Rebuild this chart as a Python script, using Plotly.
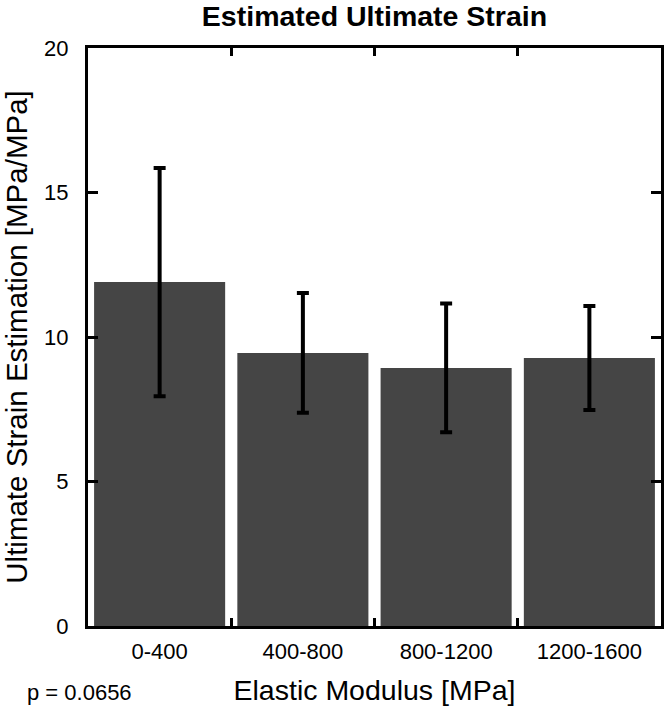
import plotly.graph_objects as go

categories = ["0-400", "400-800", "800-1200", "1200-1600"]
means = [11.9, 9.45, 8.93, 9.27]
errors = [3.95, 2.07, 2.23, 1.8]
y_ticks = [0, 5, 10, 15, 20]

fig = go.Figure()
fig.add_trace(go.Bar(
    x=categories, y=means,
    marker=dict(color="#454545", line=dict(width=0)),
    error_y=dict(type="data", array=errors, visible=True,
                 color="black", thickness=4, width=6),
))

font_family = "Liberation Sans, Arial, sans-serif"
fig.update_layout(
    width=664, height=711,
    margin=dict(l=88, r=3, t=48, b=85),
    plot_bgcolor="white", paper_bgcolor="white",
    bargap=0.085,
    showlegend=False,
    font=dict(family=font_family, color="black"),
    title=dict(text="<b>Estimated Ultimate Strain</b>", x=0.5, xref="paper", xanchor="center",
               y=0.978, yanchor="middle", font=dict(size=28.5, family=font_family)),
    xaxis=dict(
        range=[-0.5, 3.5], showline=True, linecolor="black", linewidth=3,
        mirror="ticks", ticks="inside", tickson="boundaries", ticklen=8,
        tickwidth=3, tickcolor="black", tickfont=dict(size=22),
        ticklabelstandoff=4, automargin=False,
        title=dict(text="Elastic Modulus [MPa]", font=dict(size=28.5), standoff=17),
        showgrid=False, zeroline=False,
    ),
    yaxis=dict(
        range=[0, 20], tickvals=y_ticks, showline=True, linecolor="black",
        linewidth=3, mirror="ticks", ticks="inside", ticklen=10, tickwidth=3,
        tickcolor="black", tickfont=dict(size=22), ticklabelstandoff=12,
        automargin=False,
        title=dict(text="Ultimate Strain Estimation [MPa/MPa]", font=dict(size=29.5), standoff=15),
        showgrid=False, zeroline=False,
    ),
    annotations=[dict(text="p = 0.0656", xref="paper", yref="paper",
                      x=-0.11, y=-0.115, xanchor="left", yanchor="middle",
                      showarrow=False, font=dict(size=22))],
)

fig.write_html("out.html", config={"displayModeBar": False},
               post_script="document.body.style.margin='0px';")
